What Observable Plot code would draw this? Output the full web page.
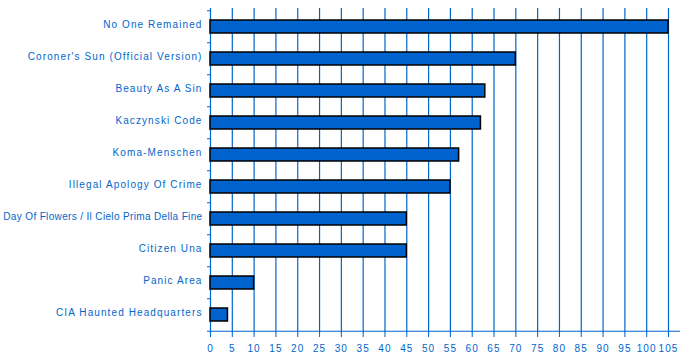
<!DOCTYPE html>
<html>
<head>
<meta charset="utf-8">
<script src="https://cdn.jsdelivr.net/npm/d3@7"></script>
<script src="https://cdn.jsdelivr.net/npm/@observablehq/plot@0.6"></script>
<style>
  html, body { margin: 0; padding: 0; background: #fff; }
  svg text { letter-spacing: 1.1px; }
</style>
</head>
<body>
<div id="chart"></div>
<script>
const titles = [
  "No One Remained",
  "Coroner's Sun (Official Version)",
  "Beauty As A Sin",
  "Kaczynski Code",
  "Koma-Menschen",
  "Illegal Apology Of Crime",
  "Day Of Flowers / Il Cielo Prima Della Fine",
  "Citizen Una",
  "Panic Area",
  "CIA Haunted Headquarters"
];
const values = [105, 70, 63, 62, 57, 55, 45, 45, 10, 4];
const xTicks = [0, 5, 10, 15, 20, 25, 30, 35, 40, 45, 50, 55, 60, 65, 70, 75, 80, 85, 90, 95, 100, 105];

const data = titles.map((t, i) => ({title: t, value: values[i]}));
const blue = "#0066cc";
const W = 681, H = 361, mTop = 8, mBottom = 28;
const step = (H - mTop - mBottom) / titles.length;

const chart = Plot.plot({
  width: W,
  height: H,
  marginLeft: 210,
  marginRight: 1,
  marginTop: mTop,
  marginBottom: mBottom,
  style: {fontFamily: "'Liberation Sans', Arial, sans-serif", fontSize: "10px", color: blue, background: "#fff"},
  x: {domain: [0, 107.75], ticks: xTicks, tickSize: 4, tickPadding: 6, label: null},
  y: {domain: titles, paddingInner: 0.6, paddingOuter: 0.3, label: null},
  marks: [
    Plot.ruleX(xTicks, {stroke: blue, strokeWidth: 1.2}),
    Plot.barX(data, {x: "value", y: "title", fill: "#0062cc", stroke: "#000", strokeWidth: 1.5}),
    Plot.ruleY([titles[titles.length - 1]], {stroke: blue, strokeWidth: 1.2, dy: step / 2}),
    Plot.axisX({ticks: xTicks, tickSize: 4, tickPadding: 7, stroke: blue, fill: blue, label: null}),
    Plot.axisY({tickSize: 0, tickPadding: 8, fill: blue, dy: -2.5, label: null}),
    Plot.axisY({tickSize: 3, tickFormat: null, stroke: blue, dy: -step / 2, label: null}),
    Plot.axisY([titles[titles.length - 1]], {tickSize: 3, tickFormat: null, stroke: blue, dy: step / 2, label: null})
  ]
});
document.getElementById("chart").appendChild(chart);

// Fit over-long labels into the left margin by tightening their letter spacing
const svgLeft = chart.getBoundingClientRect().left;
chart.querySelectorAll("[aria-label='y-axis tick label'] text").forEach(t => {
  let ls = 1.1;
  while (t.getBoundingClientRect().left - svgLeft < 3 && ls > -1) {
    ls -= 0.05;
    t.style.letterSpacing = ls + "px";
  }
});
</script>
</body>
</html>
